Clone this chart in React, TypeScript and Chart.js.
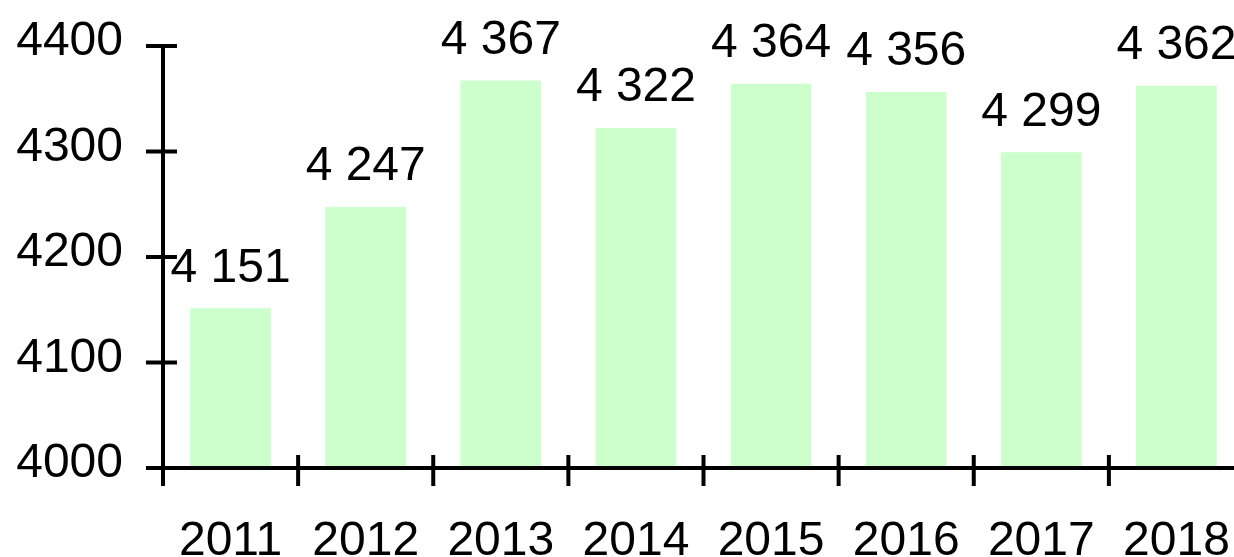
import { useEffect, useRef } from "react";
import { Chart, registerables } from "chart.js";

Chart.register(...registerables);

const years = ["2011", "2012", "2013", "2014", "2015", "2016", "2017", "2018"];
const values = [4151, 4247, 4367, 4322, 4364, 4356, 4299, 4362];
const yTicks = [4000, 4100, 4200, 4300, 4400];

const FONT = '"Liberation Sans", Arial, sans-serif';

function fmt(v: number): string {
  const th = Math.floor(v / 1000);
  const rest = String(v % 1000).padStart(3, "0");
  return `${th} ${rest}`;
}

export default function App() {
  const ref = useRef<HTMLCanvasElement>(null);

  useEffect(() => {
    const canvas = ref.current!;
    const axesPlugin = {
      id: "customAxes",
      afterDatasetsDraw(chart: any) {
        const ctx = chart.ctx;
        const { left, right, bottom } = chart.chartArea;
        const y = chart.scales.y;
        ctx.save();
        ctx.strokeStyle = "#000";
        ctx.lineWidth = 4;
        ctx.lineCap = "butt";
        ctx.beginPath();
        const topPx = y.getPixelForValue(yTicks[yTicks.length - 1]);
        ctx.moveTo(left, topPx - 2);
        ctx.lineTo(left, bottom + 18);
        ctx.moveTo(left - 17, bottom);
        ctx.lineTo(chart.width, bottom);
        yTicks.forEach((v) => {
          const py = y.getPixelForValue(v);
          ctx.moveTo(left - 17, py);
          ctx.lineTo(left + 14, py);
        });
        const n = years.length;
        const w = (right - left) / n;
        for (let i = 0; i <= n; i++) {
          const px = left + i * w;
          ctx.moveTo(px, bottom - 13);
          ctx.lineTo(px, bottom + 18);
        }
        ctx.stroke();

        ctx.fillStyle = "#000";
        ctx.font = `48px ${FONT}`;
        ctx.textAlign = "center";
        ctx.textBaseline = "alphabetic";
        const meta = chart.getDatasetMeta(0);
        meta.data.forEach((bar: any, i: number) => {
          ctx.fillText(fmt(values[i]), bar.x, bar.y - 27);
        });
        ctx.restore();
      },
    };

    const chart = new Chart(canvas, {
      type: "bar",
      data: {
        labels: years,
        datasets: [
          {
            data: values,
            backgroundColor: "#ccffcc",
            borderWidth: 0,
            barThickness: 80,
          },
        ],
      },
      options: {
        animation: false,
        responsive: false,
        maintainAspectRatio: false,
        layout: { padding: { top: 46, right: 16, left: 0, bottom: 0 } },
        plugins: {
          legend: { display: false },
          tooltip: { enabled: false },
        },
        scales: {
          x: {
            grid: { display: false, drawTicks: false },
            border: { display: false },
            ticks: {
              color: "#000",
              font: { family: FONT, size: 48 },
              padding: 45,
              maxRotation: 0,
              autoSkip: false,
            },
            afterFit: (scale: any) => {
              scale.height = 89;
              scale.paddingLeft = 0;
              scale.paddingRight = 0;
            },
          },
          y: {
            min: 4000,
            max: 4400,
            grid: { display: false, drawTicks: false },
            border: { display: false },
            ticks: {
              stepSize: 100,
              color: "#000",
              font: { family: FONT, size: 48 },
              padding: 40,
              labelOffset: -4,
              callback: (v: any) => String(v),
            },
            afterFit: (scale: any) => {
              scale.width = 163;
              scale.paddingTop = 0;
              scale.paddingBottom = 0;
            },
          },
        },
      },
      plugins: [axesPlugin],
    });
    return () => chart.destroy();
  }, []);

  return (
    <div
      style={{
        position: "fixed",
        left: 0,
        top: 0,
        width: 1234,
        height: 557,
        overflow: "hidden",
        background: "#fff",
      }}
    >
      <canvas ref={ref} width={1260} height={557} style={{ display: "block" }} />
    </div>
  );
}
